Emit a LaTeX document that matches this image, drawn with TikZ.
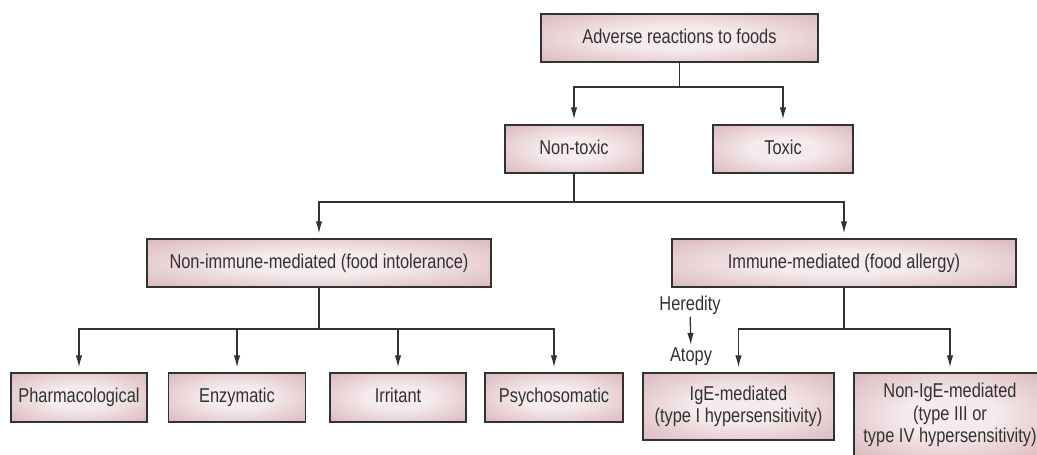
\documentclass[tikz,border=0pt]{standalone}
\usepackage{fontspec}
\setmainfont{Liberation Sans}[FakeStretch=0.82]
\usetikzlibrary{arrows.meta, positioning}

\definecolor{boxpink}{RGB}{202,154,162}
\definecolor{boxlight}{RGB}{245,234,236}
\definecolor{inkgrey}{RGB}{50,50,50}
\pgfdeclareradialshading{boxglow}{\pgfpoint{0bp}{0bp}}{color(0bp)=(boxlight); color(12bp)=(boxlight); color(50bp)=(boxpink); color(60bp)=(boxpink)}

\tikzset{
  box/.style={draw=inkgrey, line width=1.3pt, shading=boxglow, text=inkgrey,
              font=\fontsize{20}{22.5}\selectfont, align=center, inner sep=0pt,
              minimum height=48pt},
  oneline/.style={text height=14.5pt, text depth=4.2pt},
  lbl/.style={text=inkgrey, font=\fontsize{20}{22.5}\selectfont, inner sep=2pt},
  link/.style={draw=inkgrey, line width=1.3pt},
  arr/.style={link, ->, shorten >=5pt}
}

\begin{document}
\begin{tikzpicture}[x=1pt, y=-1pt, >={Latex[length=12pt,width=6.5pt]}]
  \useasboundingbox (0,0) rectangle (1037,455);

  \node[box, oneline, minimum width=277pt] (adverse) at (679.5,38) {Adverse reactions to foods};
  \node[box, oneline, minimum width=138pt] (nontoxic) at (574,149) {Non-toxic};
  \node[box, oneline, minimum width=140pt] (toxic) at (783,149) {Toxic};
  \node[box, oneline, minimum width=344pt] (nonimm) at (319,263) {Non-immune-mediated (food intolerance)};
  \node[box, oneline, minimum width=344pt] (imm) at (844,263) {Immune-mediated (food allergy)};
  \foreach \name/\x/\w/\txt in {pharm/79/136/Pharmacological, enzym/237/137/Enzymatic,
                                irrit/398/136/Irritant, psycho/554/138/Psychosomatic}
    \node[box, oneline, minimum width=\w pt, minimum height=49pt] (\name) at (\x,397.5) {\txt};
  \node[box, minimum width=191pt, minimum height=67pt] (ige) at (738.5,406.5)
    {IgE-mediated\\(type I hypersensitivity)};
  \node[box, minimum width=192pt, minimum height=84pt] (nonige) at (950,415)
    {Non-IgE-mediated\\(type III or\\type IV hypersensitivity)};
  \node[lbl] (hered) at (690,305) {Heredity};
  \node[lbl] (atopy) at (691,357) {Atopy};

  \draw[link] (adverse.south) -- (adverse.south |- 0,87) coordinate (bus1);
  \draw[arr] (bus1) -| (nontoxic.north);
  \draw[arr] (bus1) -| (toxic.north);

  \draw[link] (nontoxic.south) -- (nontoxic.south |- 0,202) coordinate (bus2);
  \draw[arr] (bus2) -| (nonimm.north);
  \draw[arr] (bus2) -| (imm.north);

  \draw[link] (nonimm.south) -- (nonimm.south |- 0,329) coordinate (bus3);
  \foreach \name in {pharm, enzym, irrit, psycho}
    \draw[arr] (bus3) -| (\name.north);

  \draw[link] (imm.south) -- (imm.south |- 0,329) coordinate (bus4);
  \draw[arr] (bus4) -| (ige.north);
  \draw[arr] (bus4) -| (nonige.north);

  \draw[link, ->, shorten >=1pt] (hered) -- (atopy);
\end{tikzpicture}
\end{document}
